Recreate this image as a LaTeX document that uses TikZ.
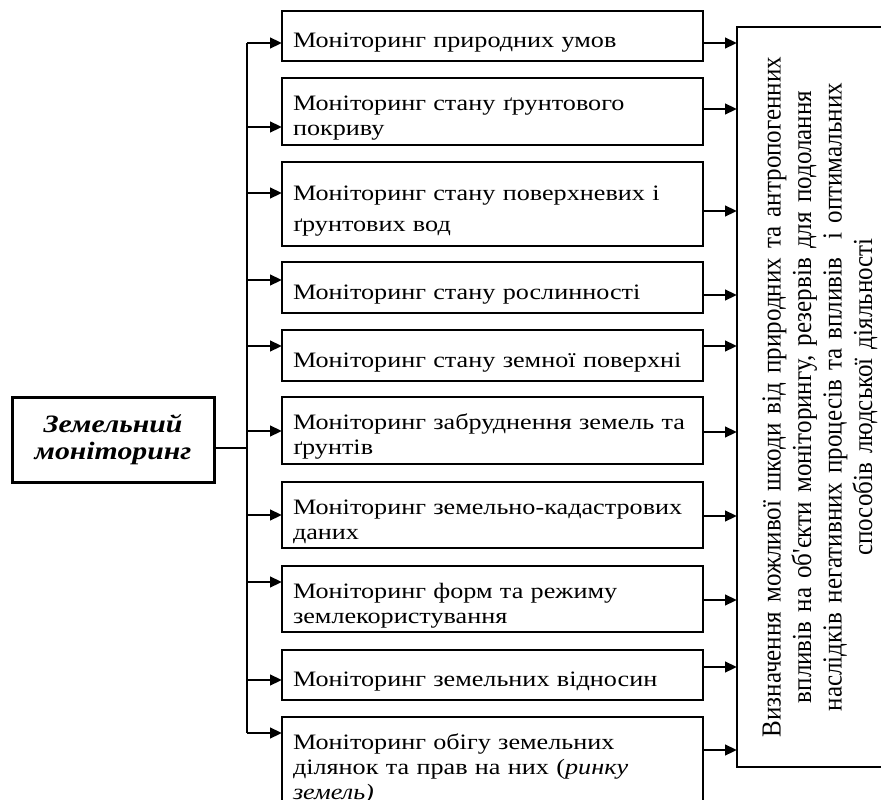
\documentclass[tikz,border=0pt]{standalone}
\usepackage{fontspec}
\setmainfont{Liberation Serif}
\newfontfamily\widefont[FakeStretch=1.19]{Liberation Serif}
\newfontfamily\vertfont[FakeStretch=0.91]{Liberation Serif}
\usetikzlibrary{arrows.meta}

\begin{document}
\begin{tikzpicture}[x=1pt, y=-1pt,
    every node/.style={outer sep=0pt},
    box/.style={draw, line width=1.5pt, anchor=north west, text width=399pt,
      inner xsep=11pt, inner ysep=4pt, align=left,
      font=\widefont\fontsize{22}{25}\selectfont, execute at begin node={\rule{0pt}{28pt}}},
    arr/.style={line width=2.6pt, -{Triangle[length=12pt,width=10.5pt]}},
  ]
  \useasboundingbox (0,0) rectangle (881,800);

  \node[draw, line width=3pt, minimum width=202pt, minimum height=85pt, align=center,
    font=\widefont\fontsize{25}{27}\selectfont\bfseries\itshape] (main) at (113,439.5) {Земельний\\моніторинг};

  \node[box, minimum height=50pt] (b1) at (282,11) {Моніторинг природних умов};
  \node[box, minimum height=67pt] (b2) at (282,78) {Моніторинг стану ґрунтового\\покриву};
  \node[box, minimum height=84pt] (b3) at (282,162) {Моніторинг стану поверхневих і\\[6pt]ґрунтових вод};
  \node[box, minimum height=51pt] (b4) at (282,262) {Моніторинг стану рослинності};
  \node[box, minimum height=51pt] (b5) at (282,330) {Моніторинг стану земної поверхні};
  \node[box, minimum height=67pt] (b6) at (282,397) {Моніторинг забруднення земель та\\ґрунтів};
  \node[box, minimum height=66pt] (b7) at (282,482) {Моніторинг земельно-кадастрових\\даних};
  \node[box, minimum height=66pt] (b8) at (282,566) {Моніторинг форм та режиму\\землекористування};
  \node[box, minimum height=50pt] (b9) at (282,650) {Моніторинг земельних відносин};
  \node[box] (b10) at (282,717) {Моніторинг обігу земельних\\ділянок та прав на них (\textit{ринку}\\\textit{земель)}};

  \node[draw, line width=1.5pt, rotate=90, minimum width=740pt, minimum height=166pt,
    text width=720pt, align=center, font=\vertfont\fontsize{27.5}{30.5}\selectfont] (res) at (820,397)
    {Визначення можливої шкоди від природних та антропогенних\\
     впливів на об'єкти моніторингу, резервів для подолання\\
     наслідків негативних процесів та впливів \ і оптимальних\\
     способів людської діяльності};

  \coordinate (spine) at (247,43);
  \draw[line width=1.5pt] (spine) -- (spine |- 0,733);
  \draw[line width=1.2pt] (main.east |- 0,448) -- (spine |- 0,448);

  \foreach \i/\l/\r in {1/43/43, 2/127/109, 3/193/211, 4/280/295, 5/346/346,
      6/431/432, 7/515/516, 8/582/600, 9/680/667, 10/733/750}{
    \draw[arr] (spine |- 0,\l) -- (b\i.west |- 0,\l);
    \draw[arr] (b\i.east |- 0,\r) -- (res.north |- 0,\r);
  }
\end{tikzpicture}
\end{document}
